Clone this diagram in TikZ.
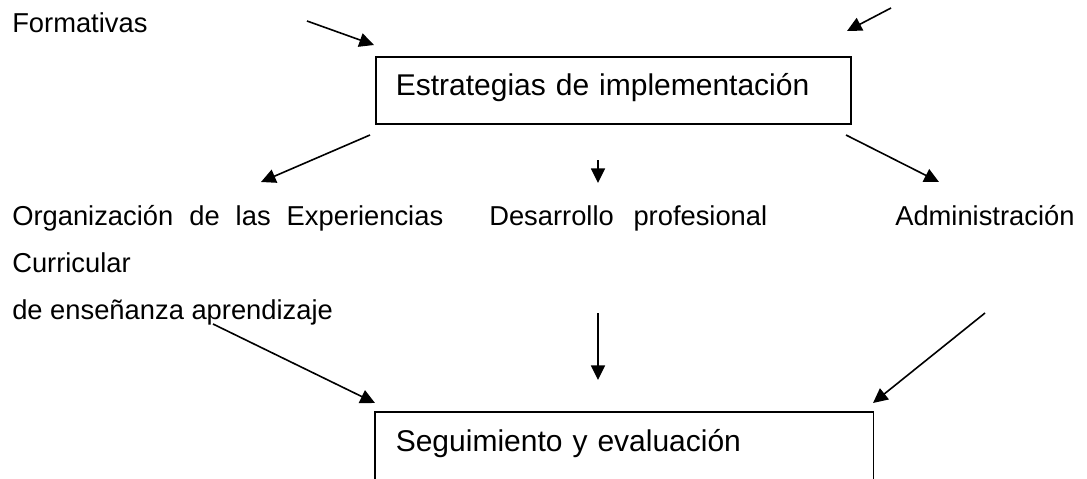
\documentclass[tikz,border=0pt]{standalone}
\usepackage{fontspec}
\setmainfont{Liberation Sans}
\usetikzlibrary{arrows.meta}

\begin{document}
\begin{tikzpicture}[x=0.75pt,y=-0.75pt,
	flecha/.style={line width=1.2pt,-{Triangle[length=11pt,width=10.5pt]}},
	texto/.style={anchor=base west,inner sep=0pt,font=\fontsize{20.5}{24}\selectfont},
	caja/.style={anchor=north west,inner xsep=15pt,inner ysep=0pt,align=left,line width=1.2pt,text height=16pt,font=\fontsize{22.5}{27}\selectfont}]
					\useasboundingbox (0,0) rectangle (1087,478);
					%Nivel 0
					\node[texto] (formativas) at (12,33) {Formativas};
					\node[caja,draw,text width=326.25pt,minimum height=50.25pt,text depth=7.75pt] (estrategias) at (375,56) {Estrategias de implementaci\'on};
					\coordinate (izqA) at (307,21);   \coordinate (izqB) at (374,45);
					\coordinate (derA) at (891,8);    \coordinate (derB) at (847,31);
					\draw[flecha] (izqA)--(izqB);
					\draw[flecha] (derA)--(derB);
					%Nivel 1
					\coordinate (s1a) at (370,135);   \coordinate (s1b) at (261,182);
					\coordinate (s2a) at (598,160);   \coordinate (s2b) at (598,183);
					\coordinate (s3a) at (846,135);   \coordinate (s3b) at (939,182);
					\draw[flecha] (s1a)--(s1b);
					\draw[flecha] (s2a)--(s2b);
					\draw[flecha] (s3a)--(s3b);
					\node[texto] (organizacion) at (12,225) {\makebox[323.25pt][s]{Organizaci\'on de las Experiencias}};
					\node[texto] (desarrollo) at (489,225) {\makebox[208.5pt][s]{Desarrollo profesional}};
					\node[texto] (administracion) at (895,225) {Administraci\'on};
					\node[texto] (curricular) at (12,272) {Curricular};
					\node[texto] (ensenanza) at (12,319) {de ense\~nanza aprendizaje};
					%Nivel 2
					\coordinate (b1a) at (213,324);   \coordinate (b1b) at (375,403);
					\coordinate (b2a) at (598,313);   \coordinate (b2b) at (598,380);
					\coordinate (b3a) at (985,313);   \coordinate (b3b) at (873,403);
					\draw[flecha] (b1a)--(b1b);
					\draw[flecha] (b2a)--(b2b);
					\draw[flecha] (b3a)--(b3b);
					\node[caja,text width=342.75pt,minimum height=49.5pt,text depth=7pt] (seguimiento) at (375,412) {Seguimiento y evaluaci\'on};
					\draw[line width=1.2pt] (seguimiento.south west)--(seguimiento.north west)--(seguimiento.north east)--(seguimiento.south east);
					
\end{tikzpicture}
\end{document}
